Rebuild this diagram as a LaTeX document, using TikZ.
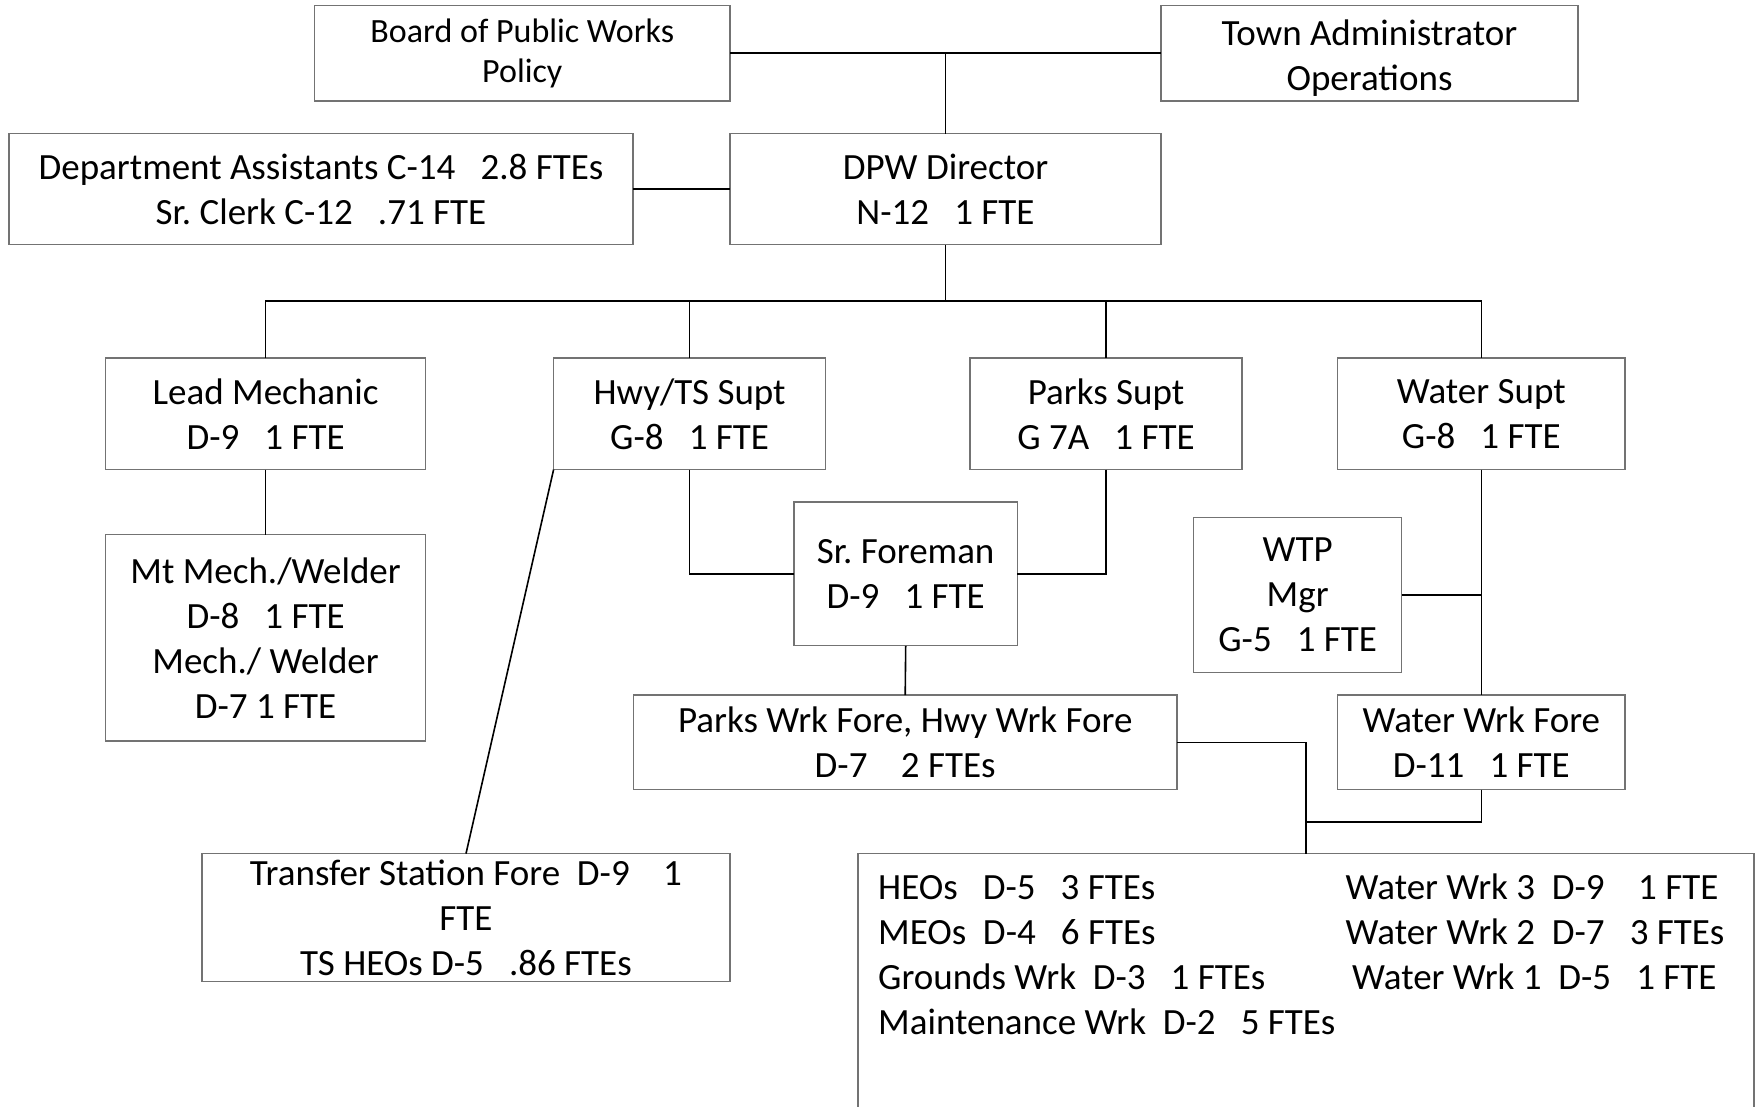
\documentclass[tikz,border=0pt]{standalone}
\usepackage{fontspec}
\setmainfont{Carlito}
\frenchspacing
\begin{document}
\begin{tikzpicture}[x=1pt,y=-1pt,
  box/.style={draw=black!55,line width=1.3pt,inner sep=0pt,outer sep=0pt,align=center,
    font=\fontsize{37}{45}\selectfont},
  smallbox/.style={box,font=\fontsize{34}{40.5}\selectfont},
  conn/.style={draw=black,line width=1.6pt},
  lbl/.style={inner sep=0pt,align=center,font=\fontsize{37}{45}\selectfont},
  txt/.style={inner sep=0pt,anchor=base west,font=\fontsize{37}{45}\selectfont}]
\useasboundingbox (0,0) rectangle (1761,1107);
\clip (0,0) rectangle (1761,1107);
\fill[white] (0,0) rectangle (1761,1107);

\node[smallbox,minimum width=415.5,minimum height=95.4] (board) at (522.3,53.3) {Board of Public Works\\Policy};
\node[box,minimum width=417,minimum height=95.4] (town) at (1369.5,53.3) {};
\node[lbl] (townlbl) at ([yshift=-4.5]town.center) {Town Administrator\\Operations};
\node[box,minimum width=624,minimum height=111.2] (dept) at (321,189.2) {Department Assistants C-14\ \ \ 2.8 FTEs\\Sr. Clerk C-12\ \ \ .71 FTE};
\node[box,minimum width=431,minimum height=111.2] (dpw) at (945.5,189.2) {DPW Director\\N-12\ \ \ 1 FTE};
\node[box,minimum width=320,minimum height=111.5] (lead) at (265.6,413.8) {Lead Mechanic\\D-9\ \ \ 1 FTE};
\node[box,minimum width=272,minimum height=111.5] (hwy) at (689.6,413.8) {Hwy/TS Supt\\G-8\ \ \ 1 FTE};
\node[box,minimum width=272,minimum height=111.5] (parks) at (1106,413.8) {Parks Supt\\G 7A\ \ \ 1 FTE};
\node[box,minimum width=287.4,minimum height=111.5] (water) at (1481.3,413.8) {Water Supt\\G-8\ \ \ 1 FTE};
\node[box,minimum width=320,minimum height=206.4] (mtmech) at (265.6,637.8) {Mt Mech./Welder\\D-8\ \ \ 1 FTE\\Mech./ Welder\\D-7 1 FTE};
\node[box,minimum width=223.5,minimum height=143.8] (srfore) at (905.7,573.9) {Sr. Foreman\\D-9\ \ \ 1 FTE};
\node[box,minimum width=207.8,minimum height=155] (wtp) at (1297.7,595.2) {WTP\\Mgr\\G-5\ \ \ 1 FTE};
\node[box,minimum width=543.6,minimum height=94.5] (pwf) at (905.2,742.3) {Parks Wrk Fore, Hwy Wrk Fore\\D-7\ \ \ \ 2 FTEs};
\node[box,minimum width=287.4,minimum height=94.5] (wwf) at (1481.3,742.3) {Water Wrk Fore\\D-11\ \ \ 1 FTE};
\node[box,minimum width=528,minimum height=128] (ts) at (466,917.6) {Transfer Station Fore\ \ D-9\ \ \ \ 1\\FTE\\TS HEOs D-5\ \ \ .86 FTEs};
\node[box,minimum width=896,minimum height=276.4] (bottom) at (1306,991.8) {};

\node[txt] (l1) at (878,899) {HEOs\ \ \ D-5\ \ \ 3 FTEs};
\node[txt] (l2) at (878,944) {MEOs\ \ D-4\ \ \ 6 FTEs};
\node[txt] (l3) at (878,989) {Grounds Wrk\ \ D-3\ \ \ 1 FTEs};
\node[txt] (l4) at (878,1034) {Maintenance Wrk\ \ D-2\ \ \ 5 FTEs};
\node[txt] (r1) at (1345.5,899) {Water Wrk 3\ \ D-9\ \ \ \ 1 FTE};
\node[txt] (r2) at (1345.5,944) {Water Wrk 2\ \ D-7\ \ \ 3 FTEs};
\node[txt] (r3) at (1352,989) {Water Wrk 1\ \ D-5\ \ \ 1 FTE};

\coordinate (bus) at (945.5,301);
\coordinate (jn) at (1306,822);

\draw[conn] (board.east) -- (town.west);
\draw[conn] (dpw.north) -- (dpw.north |- board.east);
\draw[conn] (dept.east) -- (dpw.west);
\draw[conn] (dpw.south) -- (bus);
\draw[conn] (lead.north) |- (bus) -| (water.north);
\draw[conn] (hwy.north) -- (hwy.north |- bus);
\draw[conn] (parks.north) -- (parks.north |- bus);
\draw[conn] (lead.south) -- (mtmech.north);
\draw[conn] (hwy.south) |- (srfore.west);
\draw[conn] (parks.south) |- (srfore.east);
\draw[conn] (srfore.south) -- (pwf.north);
\draw[conn] (water.south) -- (wwf.north);
\draw[conn] (wtp.east) -- (wtp.east -| water.south);
\draw[conn] (pwf.east) -| (bottom.north);
\draw[conn] (wwf.south) |- (jn);
\draw[conn] (hwy.south west) -- (ts.north);
\end{tikzpicture}
\end{document}
